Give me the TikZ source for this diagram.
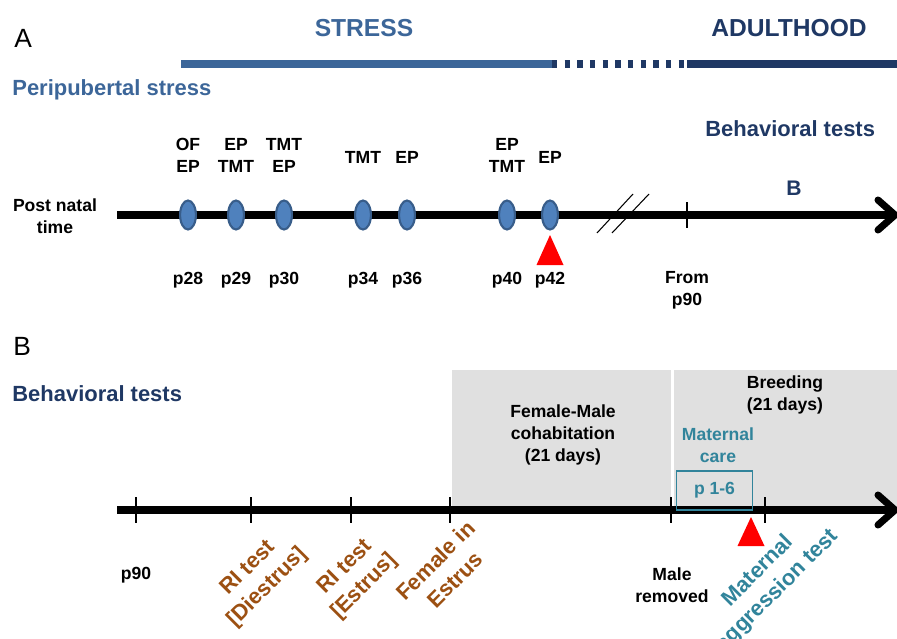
\documentclass[tikz,border=0pt]{standalone}
\usepackage{fontspec}
\setmainfont{Liberation Sans}
\usepackage{xcolor}
\usepackage{tikz}
\usetikzlibrary{arrows.meta, positioning, shapes.geometric, calc}

\definecolor{stressblue}{RGB}{60,102,153}
\definecolor{navy}{RGB}{31,56,100}
\definecolor{dotblue}{RGB}{79,129,189}
\definecolor{dotedge}{RGB}{56,93,138}
\definecolor{rust}{RGB}{156,80,18}
\definecolor{tealtext}{RGB}{49,132,155}
\definecolor{boxgray}{RGB}{224,224,224}

\begin{document}
\begin{tikzpicture}[
          x=0.02cm, y=-0.02cm,
          every node/.style={font=\bfseries\fontsize{10}{12.5}\selectfont, align=center, inner sep=1pt},
          title/.style={font=\bfseries\fontsize{14}{16}\selectfont, anchor=base, inner sep=0pt},
          heading/.style={font=\bfseries\fontsize{12.5}{15}\selectfont, anchor=base west, inner sep=0pt},
          panel/.style={font=\fontsize{15}{18}\selectfont, anchor=base west, inner sep=0pt},
          slanted/.style={font=\bfseries\fontsize{12.5}{15.5}\selectfont, rotate=45},
          axis/.style={line width=4pt},
          tip/.style={line width=4pt, line cap=round, line join=round},
          tick/.style={line width=0.9pt},
          dot/.style={ellipse, draw=dotedge, fill=dotblue, line width=1.2pt,
                      minimum width=9pt, minimum height=16.5pt, inner sep=0pt}
        ]
          \useasboundingbox (0,0) rectangle (897,639);

          % panel A
          \node[panel] (lblA) at (14,48) {A};
          \node[title, text=stressblue] (stress) at (364,36) {STRESS};
          \node[title, text=navy] (adult) at (789,36) {ADULTHOOD};
          \draw[stressblue, line width=4pt] (181,64) -- (552,64);
          \draw[navy, line width=4pt, dash pattern=on 3.1pt off 4.1pt] (552,64) -- (687,64);
          \draw[navy, line width=4pt] (687,64) -- (897,64);
          \node[heading, text=stressblue] (peri) at (12,95) {Peripubertal stress};
          \node[heading, text=navy] (behavA) at (705,136) {Behavioral tests};
          \node[font=\bfseries\fontsize{12}{14}\selectfont, text=navy, anchor=base] (gotoB) at (794,195) {B};

          \node (pnt) at (55,216) {Post natal\\time};
          \coordinate (a0) at (117,215);
          \coordinate (a1) at (895,215);
          \draw[axis] (a0) -- ([xshift=-3pt]a1);
          \draw[tip] (a1) ++(-17,-15) -- (a1) -- ++(-17,15);

          \draw[line width=0.6pt] (597,233) -- (633,194) (612,233) -- (649,194);
          \draw[tick] (687,202) -- (687,228);

          \foreach \x/\n in {188/d28, 236/d29, 284/d30, 363/d34, 407/d36, 507/d40, 550/d42}
            \node[dot] (\n) at (\x,215) {};

          \node (t28) at (188,155) {OF\\EP};
          \node (t29) at (236,155) {EP\\TMT};
          \node (t30) at (284,155) {TMT\\EP};
          \node (t34) at (363,157) {TMT};
          \node (t36) at (407,157) {EP};
          \node (t40) at (507,155) {EP\\TMT};
          \node (t42) at (550,157) {EP};

          \foreach \x/\n in {188/28, 236/29, 284/30, 363/34, 407/36, 507/40, 550/42}
            \node (p\n) at (\x,280) {p\n};
          \node (from) at (687,290) {From\\p90};

          \coordinate (redA) at (550,235);
          \fill[red] (redA) -- ++(13.5,30) -- ++(-27,0) -- cycle;

          % panel B
          \node[panel] (lblB) at (13,355) {B};
          \node[heading, text=navy] (behavB) at (12,401) {Behavioral tests};

          \fill[boxgray] (452,370) rectangle (671,508);
          \fill[boxgray] (674,370) rectangle (897,508);

          \coordinate (b0) at (117,510);
          \coordinate (b1) at (895,510);
          \draw[axis] (b0) -- ([xshift=-3pt]b1);
          \draw[tip] (b1) ++(-17,-15) -- (b1) -- ++(-17,15);

          \foreach \x in {136, 251, 351, 450, 671, 765}
            \draw[tick] (\x,497) -- (\x,523);

          \node (cohab) at (563,435) {Female-Male\\cohabitation\\(21 days)};
          \node (breed) at (785,395) {Breeding\\(21 days)};
          \node[text=tealtext] (care) at (718,445) {Maternal\\care};
          \node[draw=tealtext, text=tealtext, line width=0.8pt, minimum width=43.5pt,
                minimum height=22pt] (days) at (714.5,490.5) {p 1-6};

          \node (p90) at (136,575) {p90};
          \node[slanted, text=rust] (ri1) at (258,578) {RI test\\{}[Diestrus]};
          \node[slanted, text=rust] (ri2) at (355,577) {RI test\\{}[Estrus]};
          \node[slanted, text=rust] (fem) at (445,570) {Female in\\Estrus};
          \node (male) at (672,585) {Male\\removed};
          \node[slanted, text=tealtext] (aggr) at (768,581) {Maternal\\aggression test};

          \coordinate (redB) at (751,517);
          \fill[red] (redB) -- ++(13.5,29) -- ++(-27,0) -- cycle;
        \end{tikzpicture}
\end{document}
